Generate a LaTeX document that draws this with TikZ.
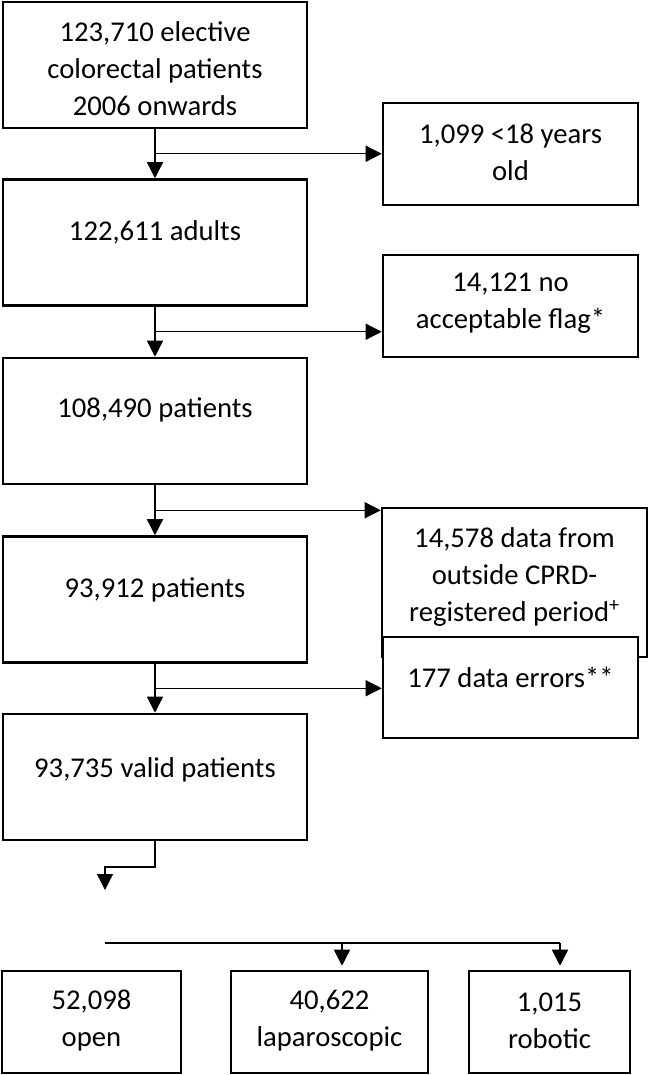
\documentclass[tikz,border=0pt]{standalone}
\usepackage{fontspec}
\setmainfont{Carlito}
\usetikzlibrary{arrows.meta,calc}
\newdimen\px \px=0.75pt
\tikzset{
  flowbox/.style = {draw, fill=white, line width=1.9pt, inner sep=0pt},
  flowtext/.style = {align=center, inner sep=0pt, font=\fontsize{21.5}{27.75}\selectfont},
  flowline/.style = {line width=1pt},
  flowarrow/.style = {flowline, -{Triangle[length=12pt,width=12pt]}}
}

\begin{document}
\begin{tikzpicture}[x=1\px, y=-1\px]
\useasboundingbox (0,0) rectangle (648,1075);

% main column
\foreach \n/\y in {1/65, 2/242.5, 3/421, 4/599.5, 5/777}{
  \node[flowbox, minimum width=304\px, minimum height=126\px] (b\n) at (155,\y) {};
}
\node[flowtext] (t1) at (155,69) {123,710 elective\\colorectal patients\\2006 onwards};
\node[flowtext] (t2) at (155,232) {122,611 adults};
\node[flowtext] (t3) at (155,410) {108,490 patients};
\node[flowtext] (t4) at (155,590) {93,912 patients};
\node[flowtext] (t5) at (155,770) {93,735 valid patients};

% exclusions
\node[flowbox, minimum width=255\px, minimum height=102\px] (r1) at (510.5,154) {};
\node[flowbox, minimum width=255\px, minimum height=102\px] (r2) at (510.5,306) {};
\node[flowbox, minimum width=265\px, minimum height=149\px] (r3) at (514.5,582.5) {};
\node[flowbox, minimum width=255\px, minimum height=101\px] (r4) at (510.5,687.5) {};
\node[flowtext] (u1) at (510.5,152.5) {1,099 <18 years\\old};
\node[flowtext] (u2) at (510.5,303) {14,121 no\\acceptable flag*};
\node[flowtext] (u3) at (514.5,577) {14,578 data from\\outside CPRD-\\registered period\textsuperscript{+}};
\node[flowtext] (u4) at (510.5,677) {177 data errors**};

\foreach \a/\b/\r in {1/2/r1, 2/3/r2, 3/4/r3, 4/5/r4}{
  \draw[flowarrow] (b\a.south) -- (b\b.north);
  \coordinate (m\a) at ($(b\a.south)!0.5!(b\b.north)$);
  \draw[flowarrow] (m\a) -- (m\a -| \r.west);
}

% surgery type
\node[flowbox, minimum width=179\px, minimum height=102\px] (open) at (91.5,1022) {};
\node[flowbox, minimum width=197\px, minimum height=102\px] (lap) at (329.5,1022) {};
\node[flowbox, minimum width=161\px, minimum height=102\px] (rob) at (549.5,1022) {};
\node[flowtext] (v1) at (91.5,1020.5) {52,098\\open};
\node[flowtext] (v2) at (329.5,1020.5) {40,622\\laparoscopic};
\node[flowtext] (v3) at (549.5,1020.5) {1,015\\robotic};

\coordinate (bend) at (105,867);
\coordinate (drop) at (105,890);
\draw[flowarrow] (b5.south) |- (bend) -- (drop);

\coordinate (s0) at (105,943);
\coordinate (s1) at (342,943);
\coordinate (s2) at (560,943);
\draw[flowline] (s0) -- (s2);
\draw[flowarrow, shorten >=3pt] (s1) -- (s1 |- lap.north);
\draw[flowarrow, shorten >=3pt] (s2) -- (s2 |- rob.north);

\end{tikzpicture}
\end{document}
